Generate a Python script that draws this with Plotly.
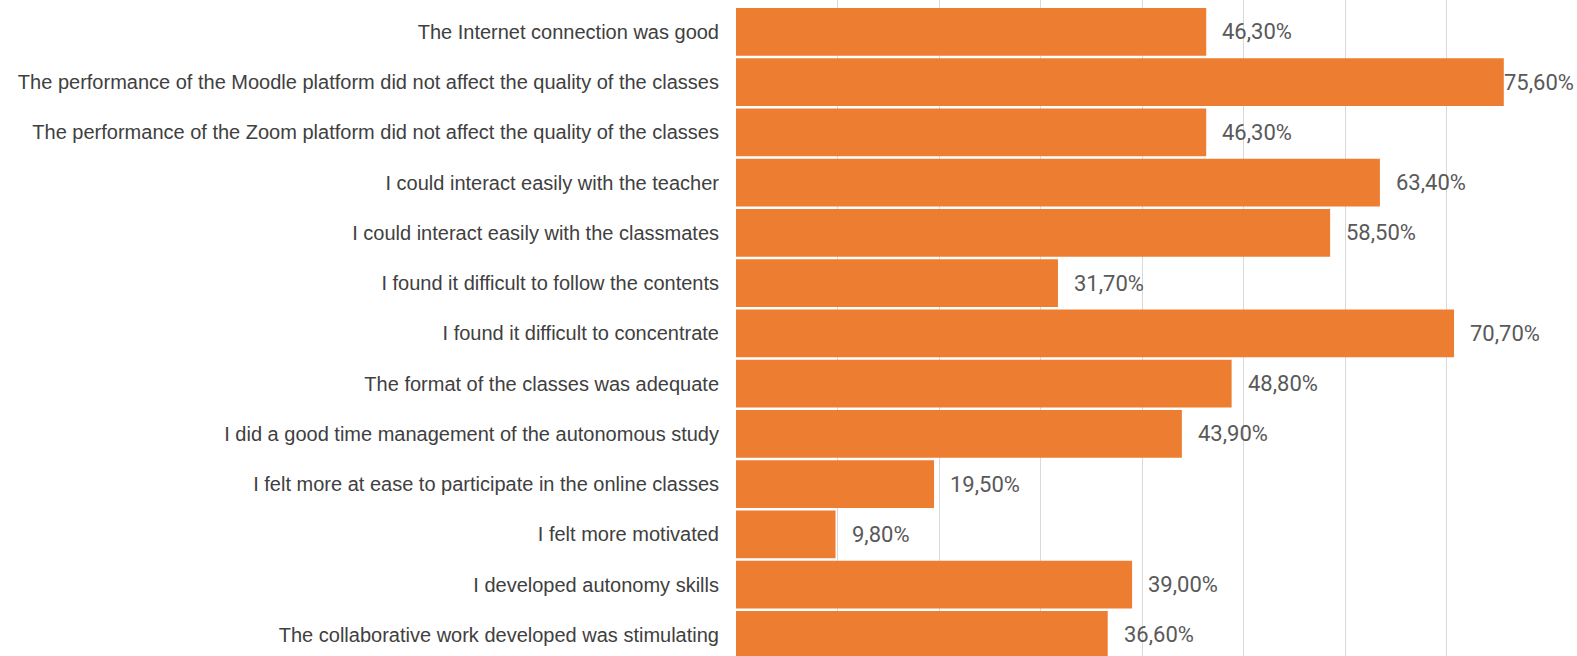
import numpy as np
import plotly.graph_objects as go

categories = [
    "The Internet connection was good",
    "The performance of the Moodle platform did not affect the quality of the classes",
    "The performance of the Zoom platform did not affect the quality of the classes",
    "I could interact easily with the teacher",
    "I could interact easily with the classmates",
    "I found it difficult to follow the contents",
    "I found it difficult to concentrate",
    "The format of the classes was adequate",
    "I did a good time management of the autonomous study",
    "I felt more at ease to participate in the online classes",
    "I felt more motivated",
    "I developed autonomy skills",
    "The collaborative work developed was stimulating",
]
values = [46.3, 75.6, 46.3, 63.4, 58.5, 31.7, 70.7, 48.8, 43.9, 19.5, 9.8, 39.0, 36.6]
labels = [f"{v:.2f}%".replace(".", ",") for v in values]

fig = go.Figure()
fig.add_trace(go.Bar(
    x=values, y=categories, orientation="h",
    marker=dict(color="#ED7D31", line=dict(width=0)),
    hoverinfo="skip", showlegend=False,
))

label_x = np.minimum(values, 74.0)
for lx, cat, lab in zip(label_x, categories, labels):
    fig.add_annotation(
        x=float(lx), y=cat, text=lab, xanchor="left", yanchor="middle",
        xshift=14, showarrow=False,
        font=dict(family="Roboto", size=22, color="#595959"),
    )

fig.update_layout(
    width=1577, height=656,
    margin=dict(l=736, r=28, t=0, b=0),
    plot_bgcolor="white", paper_bgcolor="white",
    bargap=0.05,
    xaxis=dict(range=[0, 80.05], dtick=10, tick0=0, showgrid=True,
               gridcolor="#d9d9d9", gridwidth=1, showticklabels=False,
               zeroline=False, showline=False, ticks=""),
    yaxis=dict(range=[12.42, -0.635], autorange=False, ticks="",
               tickfont=dict(family="Liberation Sans, Arial", size=20, color="#404040"),
               ticklabelstandoff=16, showgrid=False, zeroline=False, showline=False),
)

fig.write_html("out.html")
